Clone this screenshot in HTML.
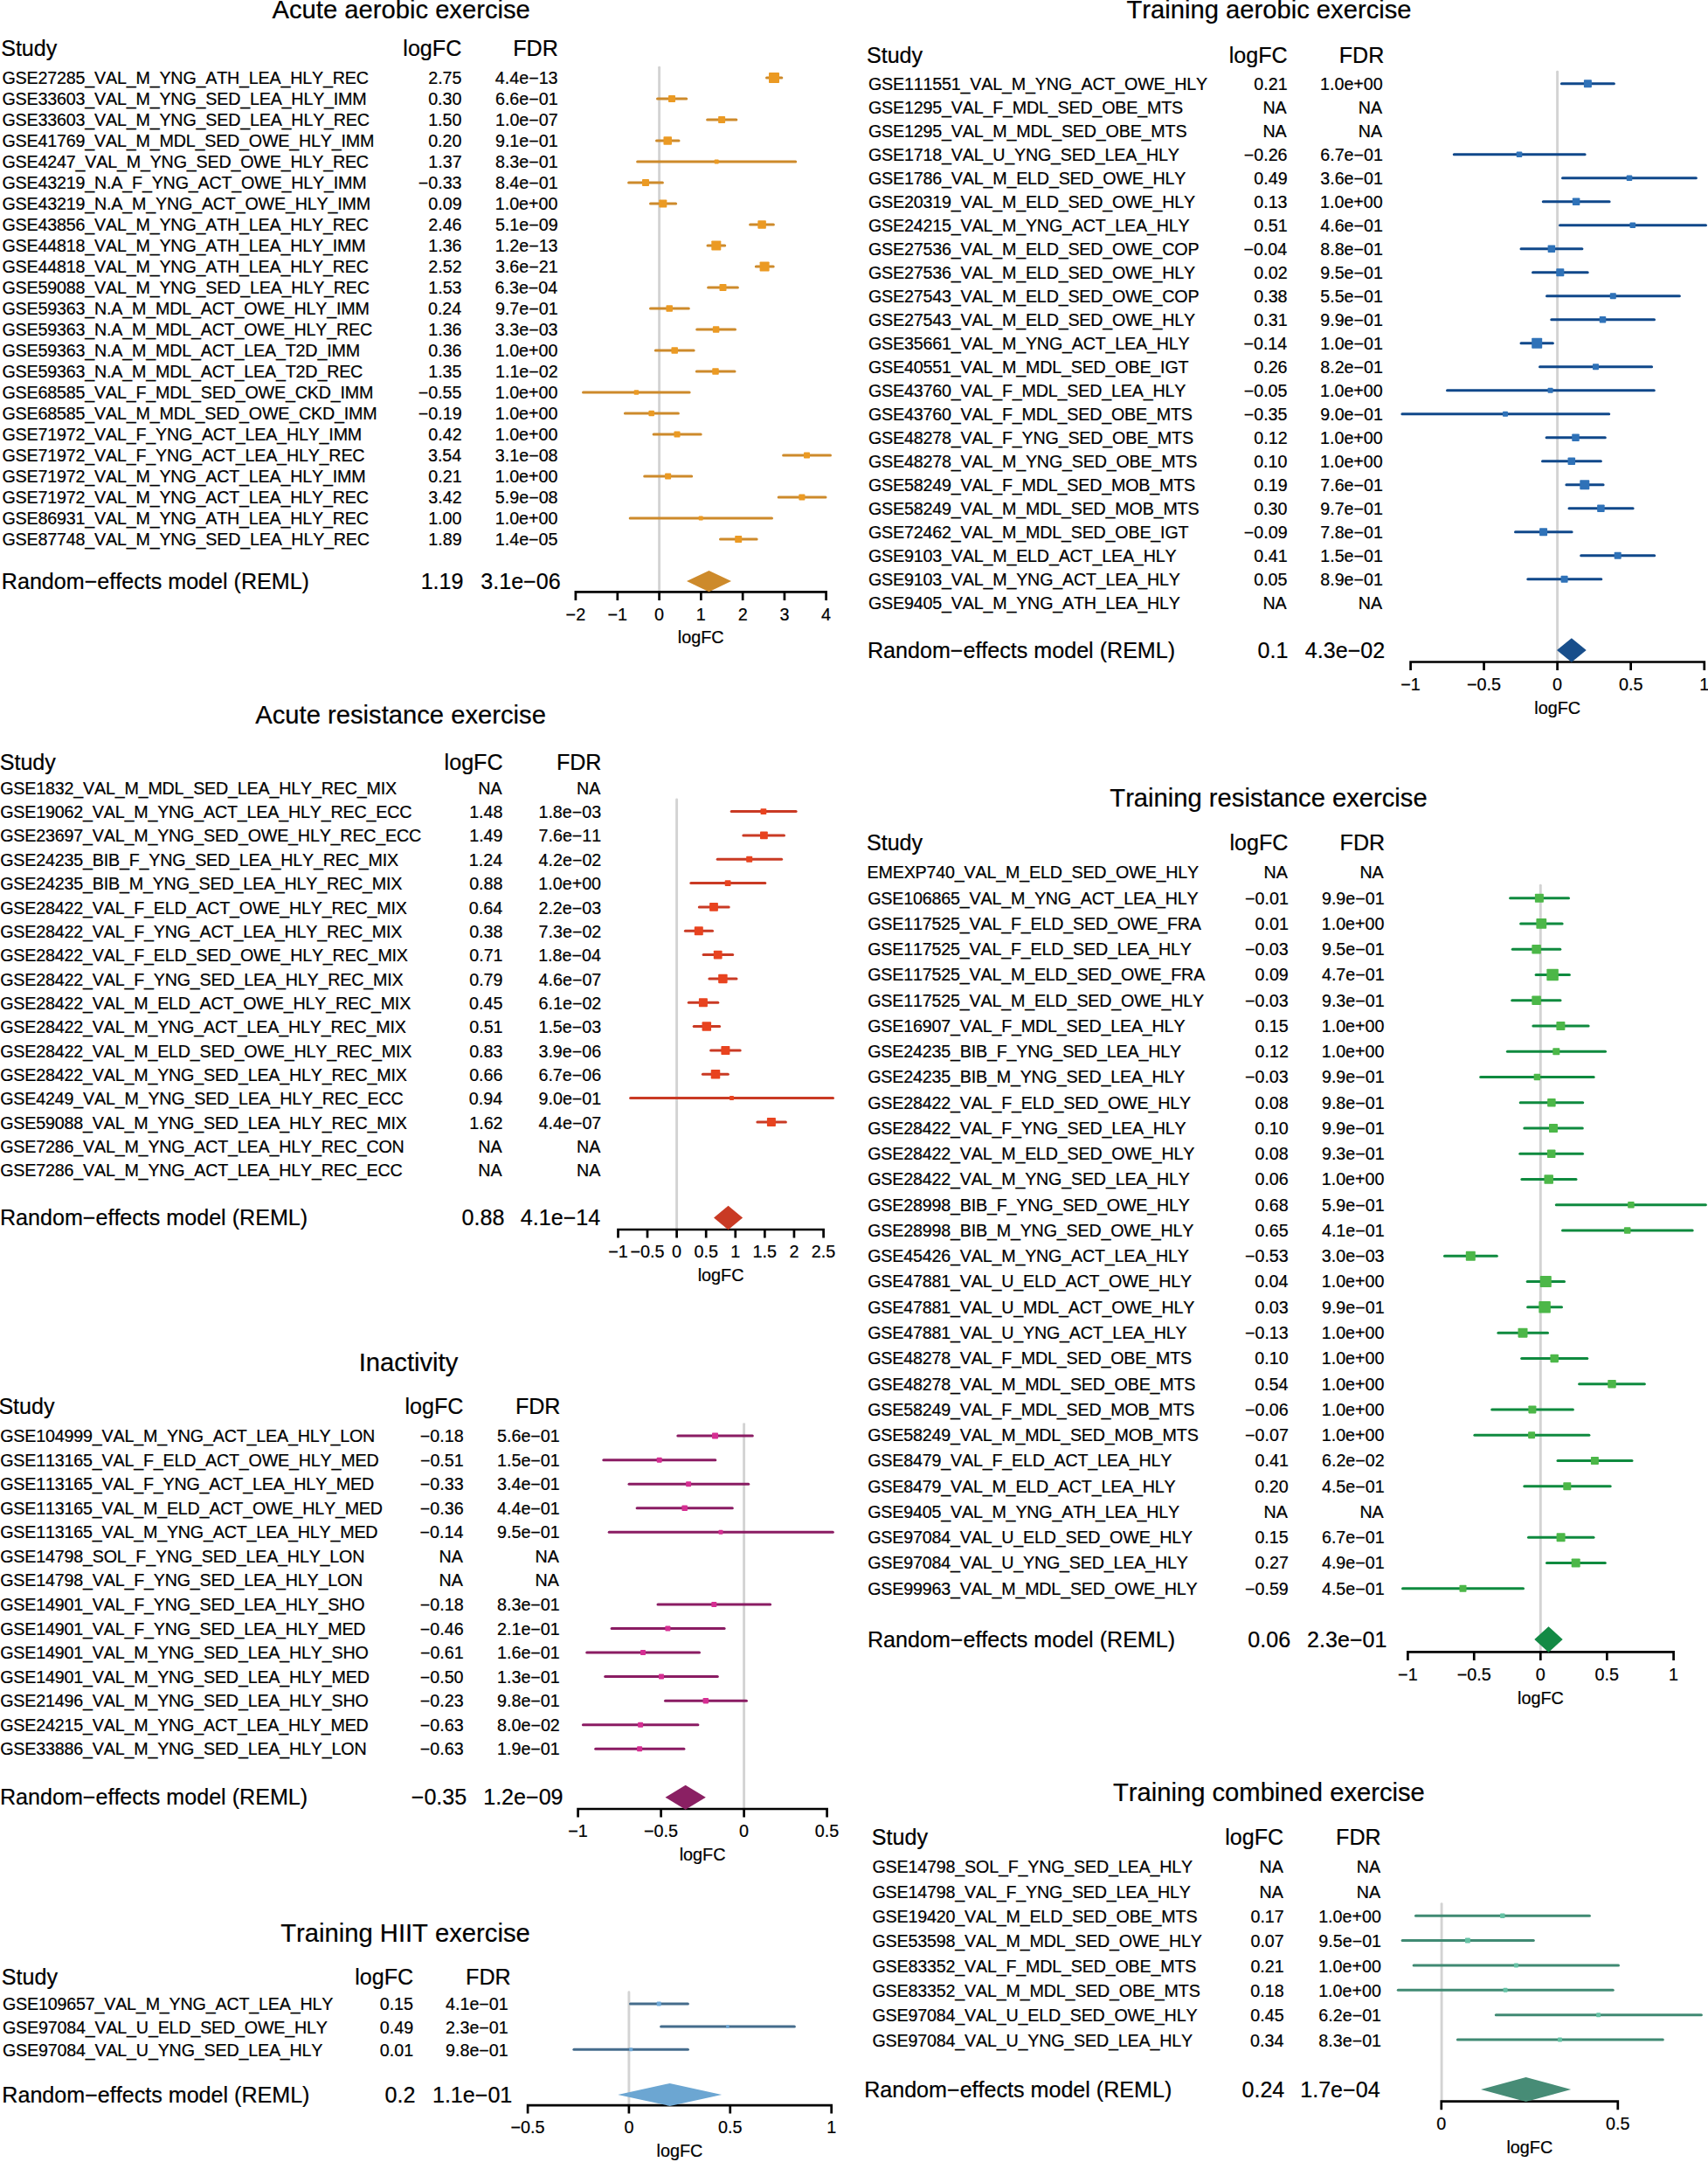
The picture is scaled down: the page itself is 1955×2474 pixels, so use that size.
<!DOCTYPE html>
<html lang="en"><head><meta charset="utf-8"><title>Forest plots</title>
<style>
html,body{margin:0;padding:0;background:#fff}
svg{display:block}
text{font-family:"Liberation Sans",sans-serif;fill:#000;stroke:#000;stroke-width:0.22px;font-kerning:none;font-variant-ligatures:none}
.t{font-size:29.2px}
.h{font-size:25.1px}
.r{font-size:19.7px}
.a{font-size:19.8px}
.l{letter-spacing:-0.19px}
</style></head><body>
<svg width="1955" height="2474" viewBox="0 0 1955 2474">
<rect width="1955" height="2474" fill="#fff"/>
<g>
<text class="t" x="459.2" y="20.6" text-anchor="middle">Acute aerobic exercise</text>
<text class="h" x="1.16" y="63.6">Study</text>
<text class="h" x="528.26" y="63.6" text-anchor="end">logFC</text>
<text class="h" x="638.86" y="63.6" text-anchor="end">FDR</text>
<line x1="754.6" x2="754.6" y1="77.2" y2="677.4" stroke="#d3d3d3" stroke-width="2.9" stroke-linecap="round"/>
<path d="M658.9 686.9V677.4H945.6V686.9M706.82 677.4v9.5M754.6 677.4v9.5M802.38 677.4v9.5M850.16 677.4v9.5M897.94 677.4v9.5" fill="none" stroke="#000" stroke-width="2.7" stroke-linecap="butt" stroke-linejoin="miter"/>
<text class="a" x="658.9" y="709.7" text-anchor="middle">−2</text>
<text class="a" x="706.82" y="709.7" text-anchor="middle">−1</text>
<text class="a" x="754.6" y="709.7" text-anchor="middle">0</text>
<text class="a" x="802.38" y="709.7" text-anchor="middle">1</text>
<text class="a" x="850.16" y="709.7" text-anchor="middle">2</text>
<text class="a" x="897.94" y="709.7" text-anchor="middle">3</text>
<text class="a" x="945.6" y="709.7" text-anchor="middle">4</text>
<text class="a" x="802.25" y="736" text-anchor="middle">logFC</text>
<text class="r l" x="2.51" y="95.5">GSE27285_VAL_M_YNG_ATH_LEA_HLY_REC</text>
<text class="r" x="528.53" y="95.5" text-anchor="end">2.75</text>
<text class="r" x="638.57" y="95.5" text-anchor="end">4.4e−13</text>
<line x1="877.5" x2="894.8" y1="89" y2="89" stroke="#CD8A2B" stroke-width="3.0" stroke-linecap="round"/>
<rect x="880" y="83" width="12" height="12" rx="0.8" fill="#EB9A23"/>
<text class="r l" x="2.51" y="119.5">GSE33603_VAL_M_YNG_SED_LEA_HLY_IMM</text>
<text class="r" x="528.47" y="119.5" text-anchor="end">0.30</text>
<text class="r" x="638.66" y="119.5" text-anchor="end">6.6e−01</text>
<line x1="752.5" x2="785.7" y1="113" y2="113" stroke="#CD8A2B" stroke-width="3.0" stroke-linecap="round"/>
<rect x="765" y="109" width="8" height="8" rx="0.8" fill="#EB9A23"/>
<text class="r l" x="2.51" y="143.5">GSE33603_VAL_M_YNG_SED_LEA_HLY_REC</text>
<text class="r" x="528.47" y="143.5" text-anchor="end">1.50</text>
<text class="r" x="638.69" y="143.5" text-anchor="end">1.0e−07</text>
<line x1="809.6" x2="842.8" y1="137" y2="137" stroke="#CD8A2B" stroke-width="3.0" stroke-linecap="round"/>
<rect x="822.1" y="133" width="8" height="8" rx="0.8" fill="#EB9A23"/>
<text class="r l" x="2.51" y="167.5">GSE41769_VAL_M_MDL_SED_OWE_HLY_IMM</text>
<text class="r" x="528.47" y="167.5" text-anchor="end">0.20</text>
<text class="r" x="638.66" y="167.5" text-anchor="end">9.1e−01</text>
<line x1="751.5" x2="777" y1="161" y2="161" stroke="#CD8A2B" stroke-width="3.0" stroke-linecap="round"/>
<rect x="759.45" y="156.25" width="9.5" height="9.5" rx="0.8" fill="#EB9A23"/>
<text class="r l" x="2.51" y="191.5">GSE4247_VAL_M_YNG_SED_OWE_HLY_REC</text>
<text class="r" x="528.69" y="191.5" text-anchor="end">1.37</text>
<text class="r" x="638.66" y="191.5" text-anchor="end">8.3e−01</text>
<line x1="729.6" x2="910.7" y1="185" y2="185" stroke="#CD8A2B" stroke-width="3.0" stroke-linecap="round"/>
<rect x="817.7" y="182.5" width="5" height="5" rx="0.8" fill="#EB9A23"/>
<text class="r l" x="2.51" y="215.5">GSE43219_N.A_F_YNG_ACT_OWE_HLY_IMM</text>
<text class="r" x="528.57" y="215.5" text-anchor="end">−0.33</text>
<text class="r" x="638.66" y="215.5" text-anchor="end">8.4e−01</text>
<line x1="719.6" x2="758.4" y1="209" y2="209" stroke="#CD8A2B" stroke-width="3.0" stroke-linecap="round"/>
<rect x="735" y="205" width="8" height="8" rx="0.8" fill="#EB9A23"/>
<text class="r l" x="2.51" y="239.5">GSE43219_N.A_M_YNG_ACT_OWE_HLY_IMM</text>
<text class="r" x="528.63" y="239.5" text-anchor="end">0.09</text>
<text class="r" x="638.47" y="239.5" text-anchor="end">1.0e+00</text>
<line x1="744.5" x2="773.6" y1="233" y2="233" stroke="#CD8A2B" stroke-width="3.0" stroke-linecap="round"/>
<rect x="754.3" y="228.5" width="9" height="9" rx="0.8" fill="#EB9A23"/>
<text class="r l" x="2.51" y="263.5">GSE43856_VAL_M_YNG_ATH_LEA_HLY_REC</text>
<text class="r" x="528.57" y="263.5" text-anchor="end">2.46</text>
<text class="r" x="638.63" y="263.5" text-anchor="end">5.1e−09</text>
<line x1="858.6" x2="885.4" y1="257" y2="257" stroke="#CD8A2B" stroke-width="3.0" stroke-linecap="round"/>
<rect x="867.35" y="252.25" width="9.5" height="9.5" rx="0.8" fill="#EB9A23"/>
<text class="r l" x="2.51" y="287.5">GSE44818_VAL_M_YNG_ATH_LEA_HLY_IMM</text>
<text class="r" x="528.57" y="287.5" text-anchor="end">1.36</text>
<text class="r" x="638.57" y="287.5" text-anchor="end">1.2e−13</text>
<line x1="810" x2="829.7" y1="281" y2="281" stroke="#CD8A2B" stroke-width="3.0" stroke-linecap="round"/>
<rect x="814.3" y="275.5" width="11" height="11" rx="0.8" fill="#EB9A23"/>
<text class="r l" x="2.51" y="311.5">GSE44818_VAL_M_YNG_ATH_LEA_HLY_REC</text>
<text class="r" x="528.69" y="311.5" text-anchor="end">2.52</text>
<text class="r" x="638.66" y="311.5" text-anchor="end">3.6e−21</text>
<line x1="865.3" x2="885.2" y1="305" y2="305" stroke="#CD8A2B" stroke-width="3.0" stroke-linecap="round"/>
<rect x="869.6" y="299.5" width="11" height="11" rx="0.8" fill="#EB9A23"/>
<text class="r l" x="2.51" y="335.5">GSE59088_VAL_M_YNG_SED_LEA_HLY_REC</text>
<text class="r" x="528.57" y="335.5" text-anchor="end">1.53</text>
<text class="r" x="638.28" y="335.5" text-anchor="end">6.3e−04</text>
<line x1="810.6" x2="844.4" y1="329" y2="329" stroke="#CD8A2B" stroke-width="3.0" stroke-linecap="round"/>
<rect x="823.5" y="325" width="8" height="8" rx="0.8" fill="#EB9A23"/>
<text class="r l" x="2.51" y="359.5">GSE59363_N.A_M_MDL_ACT_OWE_HLY_IMM</text>
<text class="r" x="528.28" y="359.5" text-anchor="end">0.24</text>
<text class="r" x="638.66" y="359.5" text-anchor="end">9.7e−01</text>
<line x1="744.5" x2="788.3" y1="353" y2="353" stroke="#CD8A2B" stroke-width="3.0" stroke-linecap="round"/>
<rect x="762.45" y="349.25" width="7.5" height="7.5" rx="0.8" fill="#EB9A23"/>
<text class="r l" x="2.51" y="383.5">GSE59363_N.A_M_MDL_ACT_OWE_HLY_REC</text>
<text class="r" x="528.57" y="383.5" text-anchor="end">1.36</text>
<text class="r" x="638.57" y="383.5" text-anchor="end">3.3e−03</text>
<line x1="797.7" x2="841.5" y1="377" y2="377" stroke="#CD8A2B" stroke-width="3.0" stroke-linecap="round"/>
<rect x="815.85" y="373.25" width="7.5" height="7.5" rx="0.8" fill="#EB9A23"/>
<text class="r l" x="2.51" y="407.5">GSE59363_N.A_M_MDL_ACT_LEA_T2D_IMM</text>
<text class="r" x="528.57" y="407.5" text-anchor="end">0.36</text>
<text class="r" x="638.47" y="407.5" text-anchor="end">1.0e+00</text>
<line x1="750.3" x2="794.1" y1="401" y2="401" stroke="#CD8A2B" stroke-width="3.0" stroke-linecap="round"/>
<rect x="768.45" y="397.25" width="7.5" height="7.5" rx="0.8" fill="#EB9A23"/>
<text class="r l" x="2.51" y="431.5">GSE59363_N.A_M_MDL_ACT_LEA_T2D_REC</text>
<text class="r" x="528.53" y="431.5" text-anchor="end">1.35</text>
<text class="r" x="638.69" y="431.5" text-anchor="end">1.1e−02</text>
<line x1="797.3" x2="841" y1="425" y2="425" stroke="#CD8A2B" stroke-width="3.0" stroke-linecap="round"/>
<rect x="815.25" y="421.25" width="7.5" height="7.5" rx="0.8" fill="#EB9A23"/>
<text class="r l" x="2.51" y="455.5">GSE68585_VAL_F_MDL_SED_OWE_CKD_IMM</text>
<text class="r" x="528.53" y="455.5" text-anchor="end">−0.55</text>
<text class="r" x="638.47" y="455.5" text-anchor="end">1.0e+00</text>
<line x1="667.5" x2="789.1" y1="449" y2="449" stroke="#CD8A2B" stroke-width="3.0" stroke-linecap="round"/>
<rect x="725.65" y="446.25" width="5.5" height="5.5" rx="0.8" fill="#EB9A23"/>
<text class="r l" x="2.51" y="479.5">GSE68585_VAL_M_MDL_SED_OWE_CKD_IMM</text>
<text class="r" x="528.63" y="479.5" text-anchor="end">−0.19</text>
<text class="r" x="638.47" y="479.5" text-anchor="end">1.0e+00</text>
<line x1="715.4" x2="776.4" y1="473" y2="473" stroke="#CD8A2B" stroke-width="3.0" stroke-linecap="round"/>
<rect x="742.45" y="469.75" width="6.5" height="6.5" rx="0.8" fill="#EB9A23"/>
<text class="r l" x="2.51" y="503.5">GSE71972_VAL_F_YNG_ACT_LEA_HLY_IMM</text>
<text class="r" x="528.69" y="503.5" text-anchor="end">0.42</text>
<text class="r" x="638.47" y="503.5" text-anchor="end">1.0e+00</text>
<line x1="748.1" x2="802.2" y1="497" y2="497" stroke="#CD8A2B" stroke-width="3.0" stroke-linecap="round"/>
<rect x="771.5" y="493.5" width="7" height="7" rx="0.8" fill="#EB9A23"/>
<text class="r l" x="2.51" y="527.5">GSE71972_VAL_F_YNG_ACT_LEA_HLY_REC</text>
<text class="r" x="528.28" y="527.5" text-anchor="end">3.54</text>
<text class="r" x="638.56" y="527.5" text-anchor="end">3.1e−08</text>
<line x1="896.6" x2="950.5" y1="521" y2="521" stroke="#CD8A2B" stroke-width="3.0" stroke-linecap="round"/>
<rect x="920" y="517.5" width="7" height="7" rx="0.8" fill="#EB9A23"/>
<text class="r l" x="2.51" y="551.5">GSE71972_VAL_M_YNG_ACT_LEA_HLY_IMM</text>
<text class="r" x="528.66" y="551.5" text-anchor="end">0.21</text>
<text class="r" x="638.47" y="551.5" text-anchor="end">1.0e+00</text>
<line x1="737.7" x2="791.7" y1="545" y2="545" stroke="#CD8A2B" stroke-width="3.0" stroke-linecap="round"/>
<rect x="761.1" y="541.5" width="7" height="7" rx="0.8" fill="#EB9A23"/>
<text class="r l" x="2.51" y="575.5">GSE71972_VAL_M_YNG_ACT_LEA_HLY_REC</text>
<text class="r" x="528.69" y="575.5" text-anchor="end">3.42</text>
<text class="r" x="638.56" y="575.5" text-anchor="end">5.9e−08</text>
<line x1="891.2" x2="945" y1="569" y2="569" stroke="#CD8A2B" stroke-width="3.0" stroke-linecap="round"/>
<rect x="914.4" y="565.5" width="7" height="7" rx="0.8" fill="#EB9A23"/>
<text class="r l" x="2.51" y="599.5">GSE86931_VAL_M_YNG_ATH_LEA_HLY_REC</text>
<text class="r" x="528.47" y="599.5" text-anchor="end">1.00</text>
<text class="r" x="638.47" y="599.5" text-anchor="end">1.0e+00</text>
<line x1="721.2" x2="883.5" y1="593" y2="593" stroke="#CD8A2B" stroke-width="3.0" stroke-linecap="round"/>
<rect x="799.7" y="590.5" width="5" height="5" rx="0.8" fill="#EB9A23"/>
<text class="r l" x="2.51" y="623.5">GSE87748_VAL_M_YNG_SED_LEA_HLY_REC</text>
<text class="r" x="528.63" y="623.5" text-anchor="end">1.89</text>
<text class="r" x="638.53" y="623.5" text-anchor="end">1.4e−05</text>
<line x1="824.5" x2="866.1" y1="617" y2="617" stroke="#CD8A2B" stroke-width="3.0" stroke-linecap="round"/>
<rect x="841.2" y="613" width="8" height="8" rx="0.8" fill="#EB9A23"/>
<text class="h" x="1.84" y="673.7">Random−effects model (REML)</text>
<text class="h" x="530.49" y="673.7" text-anchor="end">1.19</text>
<text class="h" x="641.7" y="673.7" text-anchor="end">3.1e−06</text>
<polygon points="786,665.1 811.5,652.9 837,665.1 811.5,677.3" fill="#CD8A2B"/>
</g>
<g>
<text class="t" x="1452.5" y="20.6" text-anchor="middle">Training aerobic exercise</text>
<text class="h" x="991.96" y="71.9">Study</text>
<text class="h" x="1473.66" y="71.9" text-anchor="end">logFC</text>
<text class="h" x="1584.36" y="71.9" text-anchor="end">FDR</text>
<line x1="1782.6" x2="1782.6" y1="82.2" y2="757.5" stroke="#d3d3d3" stroke-width="2.9" stroke-linecap="round"/>
<path d="M1614.6 767V757.5H1950.8V767M1698.55 757.5v9.5M1782.6 757.5v9.5M1866.65 757.5v9.5" fill="none" stroke="#000" stroke-width="2.7" stroke-linecap="butt" stroke-linejoin="miter"/>
<text class="a" x="1614.6" y="789.8" text-anchor="middle">−1</text>
<text class="a" x="1698.55" y="789.8" text-anchor="middle">−0.5</text>
<text class="a" x="1782.6" y="789.8" text-anchor="middle">0</text>
<text class="a" x="1866.65" y="789.8" text-anchor="middle">0.5</text>
<text class="a" x="1950.8" y="789.8" text-anchor="middle">1</text>
<text class="a" x="1782.7" y="816.8" text-anchor="middle">logFC</text>
<text class="r l" x="994.01" y="102.7">GSE111551_VAL_M_YNG_ACT_OWE_HLY</text>
<text class="r" x="1473.66" y="102.7" text-anchor="end">0.21</text>
<text class="r" x="1582.77" y="102.7" text-anchor="end">1.0e+00</text>
<line x1="1787.4" x2="1847.4" y1="95.7" y2="95.7" stroke="#10488A" stroke-width="3.0" stroke-linecap="round"/>
<rect x="1812.9" y="91.2" width="9" height="9" rx="0.8" fill="#2F72B8"/>
<text class="r l" x="994.01" y="129.7">GSE1295_VAL_F_MDL_SED_OBE_MTS</text>
<text class="r" x="1472.74" y="129.7" text-anchor="end">NA</text>
<text class="r" x="1582.04" y="129.7" text-anchor="end">NA</text>
<text class="r l" x="994.01" y="156.7">GSE1295_VAL_M_MDL_SED_OBE_MTS</text>
<text class="r" x="1472.74" y="156.7" text-anchor="end">NA</text>
<text class="r" x="1582.04" y="156.7" text-anchor="end">NA</text>
<text class="r l" x="994.01" y="183.7">GSE1718_VAL_U_YNG_SED_LEA_HLY</text>
<text class="r" x="1473.57" y="183.7" text-anchor="end">−0.26</text>
<text class="r" x="1582.96" y="183.7" text-anchor="end">6.7e−01</text>
<line x1="1664.3" x2="1814.1" y1="176.7" y2="176.7" stroke="#10488A" stroke-width="3.0" stroke-linecap="round"/>
<rect x="1735.75" y="173.45" width="6.5" height="6.5" rx="0.8" fill="#2F72B8"/>
<text class="r l" x="994.01" y="210.7">GSE1786_VAL_M_ELD_SED_OWE_HLY</text>
<text class="r" x="1473.63" y="210.7" text-anchor="end">0.49</text>
<text class="r" x="1582.96" y="210.7" text-anchor="end">3.6e−01</text>
<line x1="1788.5" x2="1941.4" y1="203.7" y2="203.7" stroke="#10488A" stroke-width="3.0" stroke-linecap="round"/>
<rect x="1861.75" y="200.45" width="6.5" height="6.5" rx="0.8" fill="#2F72B8"/>
<text class="r l" x="994.01" y="237.7">GSE20319_VAL_M_ELD_SED_OWE_HLY</text>
<text class="r" x="1473.57" y="237.7" text-anchor="end">0.13</text>
<text class="r" x="1582.77" y="237.7" text-anchor="end">1.0e+00</text>
<line x1="1766.3" x2="1842.1" y1="230.7" y2="230.7" stroke="#10488A" stroke-width="3.0" stroke-linecap="round"/>
<rect x="1799.85" y="226.45" width="8.5" height="8.5" rx="0.8" fill="#2F72B8"/>
<text class="r l" x="994.01" y="264.7">GSE24215_VAL_M_YNG_ACT_LEA_HLY</text>
<text class="r" x="1473.66" y="264.7" text-anchor="end">0.51</text>
<text class="r" x="1582.96" y="264.7" text-anchor="end">4.6e−01</text>
<line x1="1785.5" x2="1952.5" y1="257.7" y2="257.7" stroke="#10488A" stroke-width="3.0" stroke-linecap="round"/>
<rect x="1865.55" y="254.45" width="6.5" height="6.5" rx="0.8" fill="#2F72B8"/>
<text class="r l" x="994.01" y="291.7">GSE27536_VAL_M_ELD_SED_OWE_COP</text>
<text class="r" x="1473.28" y="291.7" text-anchor="end">−0.04</text>
<text class="r" x="1582.96" y="291.7" text-anchor="end">8.8e−01</text>
<line x1="1741" x2="1810.9" y1="284.7" y2="284.7" stroke="#10488A" stroke-width="3.0" stroke-linecap="round"/>
<rect x="1771.65" y="280.45" width="8.5" height="8.5" rx="0.8" fill="#2F72B8"/>
<text class="r l" x="994.01" y="318.7">GSE27536_VAL_M_ELD_SED_OWE_HLY</text>
<text class="r" x="1473.69" y="318.7" text-anchor="end">0.02</text>
<text class="r" x="1582.96" y="318.7" text-anchor="end">9.5e−01</text>
<line x1="1754.5" x2="1817.2" y1="311.7" y2="311.7" stroke="#10488A" stroke-width="3.0" stroke-linecap="round"/>
<rect x="1781.3" y="307.2" width="9" height="9" rx="0.8" fill="#2F72B8"/>
<text class="r l" x="994.01" y="345.7">GSE27543_VAL_M_ELD_SED_OWE_COP</text>
<text class="r" x="1473.56" y="345.7" text-anchor="end">0.38</text>
<text class="r" x="1582.96" y="345.7" text-anchor="end">5.5e−01</text>
<line x1="1770.5" x2="1922.4" y1="338.7" y2="338.7" stroke="#10488A" stroke-width="3.0" stroke-linecap="round"/>
<rect x="1842.8" y="335.2" width="7" height="7" rx="0.8" fill="#2F72B8"/>
<text class="r l" x="994.01" y="372.7">GSE27543_VAL_M_ELD_SED_OWE_HLY</text>
<text class="r" x="1473.66" y="372.7" text-anchor="end">0.31</text>
<text class="r" x="1582.96" y="372.7" text-anchor="end">9.9e−01</text>
<line x1="1775.8" x2="1893.5" y1="365.7" y2="365.7" stroke="#10488A" stroke-width="3.0" stroke-linecap="round"/>
<rect x="1830.75" y="361.95" width="7.5" height="7.5" rx="0.8" fill="#2F72B8"/>
<text class="r l" x="994.01" y="399.7">GSE35661_VAL_M_YNG_ACT_LEA_HLY</text>
<text class="r" x="1473.28" y="399.7" text-anchor="end">−0.14</text>
<text class="r" x="1582.96" y="399.7" text-anchor="end">1.0e−01</text>
<line x1="1741" x2="1777.4" y1="392.7" y2="392.7" stroke="#10488A" stroke-width="3.0" stroke-linecap="round"/>
<rect x="1753.2" y="386.7" width="12" height="12" rx="0.8" fill="#2F72B8"/>
<text class="r l" x="994.01" y="426.7">GSE40551_VAL_M_MDL_SED_OBE_IGT</text>
<text class="r" x="1473.57" y="426.7" text-anchor="end">0.26</text>
<text class="r" x="1582.96" y="426.7" text-anchor="end">8.2e−01</text>
<line x1="1762.5" x2="1890.6" y1="419.7" y2="419.7" stroke="#10488A" stroke-width="3.0" stroke-linecap="round"/>
<rect x="1823" y="416.2" width="7" height="7" rx="0.8" fill="#2F72B8"/>
<text class="r l" x="994.01" y="453.7">GSE43760_VAL_F_MDL_SED_LEA_HLY</text>
<text class="r" x="1473.53" y="453.7" text-anchor="end">−0.05</text>
<text class="r" x="1582.77" y="453.7" text-anchor="end">1.0e+00</text>
<line x1="1656.5" x2="1893.3" y1="446.7" y2="446.7" stroke="#10488A" stroke-width="3.0" stroke-linecap="round"/>
<rect x="1771.6" y="443.7" width="6" height="6" rx="0.8" fill="#2F72B8"/>
<text class="r l" x="994.01" y="480.7">GSE43760_VAL_F_MDL_SED_OBE_MTS</text>
<text class="r" x="1473.53" y="480.7" text-anchor="end">−0.35</text>
<text class="r" x="1582.96" y="480.7" text-anchor="end">9.0e−01</text>
<line x1="1604.9" x2="1841.7" y1="473.7" y2="473.7" stroke="#10488A" stroke-width="3.0" stroke-linecap="round"/>
<rect x="1720" y="470.7" width="6" height="6" rx="0.8" fill="#2F72B8"/>
<text class="r l" x="994.01" y="507.7">GSE48278_VAL_F_YNG_SED_OBE_MTS</text>
<text class="r" x="1473.69" y="507.7" text-anchor="end">0.12</text>
<text class="r" x="1582.77" y="507.7" text-anchor="end">1.0e+00</text>
<line x1="1770.1" x2="1837.3" y1="500.7" y2="500.7" stroke="#10488A" stroke-width="3.0" stroke-linecap="round"/>
<rect x="1799.25" y="496.45" width="8.5" height="8.5" rx="0.8" fill="#2F72B8"/>
<text class="r l" x="994.01" y="534.7">GSE48278_VAL_M_YNG_SED_OBE_MTS</text>
<text class="r" x="1473.47" y="534.7" text-anchor="end">0.10</text>
<text class="r" x="1582.77" y="534.7" text-anchor="end">1.0e+00</text>
<line x1="1765.5" x2="1832.4" y1="527.7" y2="527.7" stroke="#10488A" stroke-width="3.0" stroke-linecap="round"/>
<rect x="1794.55" y="523.45" width="8.5" height="8.5" rx="0.8" fill="#2F72B8"/>
<text class="r l" x="994.01" y="561.7">GSE58249_VAL_F_MDL_SED_MOB_MTS</text>
<text class="r" x="1473.63" y="561.7" text-anchor="end">0.19</text>
<text class="r" x="1582.96" y="561.7" text-anchor="end">7.6e−01</text>
<line x1="1792.9" x2="1835.1" y1="554.7" y2="554.7" stroke="#10488A" stroke-width="3.0" stroke-linecap="round"/>
<rect x="1808.3" y="549.2" width="11" height="11" rx="0.8" fill="#2F72B8"/>
<text class="r l" x="994.01" y="588.7">GSE58249_VAL_M_MDL_SED_MOB_MTS</text>
<text class="r" x="1473.47" y="588.7" text-anchor="end">0.30</text>
<text class="r" x="1582.96" y="588.7" text-anchor="end">9.7e−01</text>
<line x1="1796" x2="1869.1" y1="581.7" y2="581.7" stroke="#10488A" stroke-width="3.0" stroke-linecap="round"/>
<rect x="1828.15" y="577.45" width="8.5" height="8.5" rx="0.8" fill="#2F72B8"/>
<text class="r l" x="994.01" y="615.7">GSE72462_VAL_M_MDL_SED_OBE_IGT</text>
<text class="r" x="1473.63" y="615.7" text-anchor="end">−0.09</text>
<text class="r" x="1582.96" y="615.7" text-anchor="end">7.8e−01</text>
<line x1="1734.5" x2="1799.1" y1="608.7" y2="608.7" stroke="#10488A" stroke-width="3.0" stroke-linecap="round"/>
<rect x="1762.1" y="604.2" width="9" height="9" rx="0.8" fill="#2F72B8"/>
<text class="r l" x="994.01" y="642.7">GSE9103_VAL_M_ELD_ACT_LEA_HLY</text>
<text class="r" x="1473.66" y="642.7" text-anchor="end">0.41</text>
<text class="r" x="1582.96" y="642.7" text-anchor="end">1.5e−01</text>
<line x1="1809.7" x2="1893.7" y1="635.7" y2="635.7" stroke="#10488A" stroke-width="3.0" stroke-linecap="round"/>
<rect x="1847.7" y="631.7" width="8" height="8" rx="0.8" fill="#2F72B8"/>
<text class="r l" x="994.01" y="669.7">GSE9103_VAL_M_YNG_ACT_LEA_HLY</text>
<text class="r" x="1473.53" y="669.7" text-anchor="end">0.05</text>
<text class="r" x="1582.96" y="669.7" text-anchor="end">8.9e−01</text>
<line x1="1748.8" x2="1832.8" y1="662.7" y2="662.7" stroke="#10488A" stroke-width="3.0" stroke-linecap="round"/>
<rect x="1786.6" y="658.7" width="8" height="8" rx="0.8" fill="#2F72B8"/>
<text class="r l" x="994.01" y="696.7">GSE9405_VAL_M_YNG_ATH_LEA_HLY</text>
<text class="r" x="1472.74" y="696.7" text-anchor="end">NA</text>
<text class="r" x="1582.04" y="696.7" text-anchor="end">NA</text>
<text class="h" x="992.94" y="752.55">Random−effects model (REML)</text>
<text class="h" x="1474.43" y="752.55" text-anchor="end">0.1</text>
<text class="h" x="1585.26" y="752.55" text-anchor="end">4.3e−02</text>
<polygon points="1782,744 1798.85,730.2 1815.7,744 1798.85,757.8" fill="#184E8B"/>
</g>
<g>
<text class="t" x="458.6" y="827.7" text-anchor="middle">Acute resistance exercise</text>
<text class="h" x="-0.34" y="881.1">Study</text>
<text class="h" x="575.56" y="881.1" text-anchor="end">logFC</text>
<text class="h" x="688.46" y="881.1" text-anchor="end">FDR</text>
<line x1="774.6" x2="774.6" y1="915" y2="1407" stroke="#d3d3d3" stroke-width="2.9" stroke-linecap="round"/>
<path d="M707.5 1416.5V1407H942.6V1416.5M741.01 1407v9.5M774.6 1407v9.5M808.19 1407v9.5M841.77 1407v9.5M875.36 1407v9.5M908.94 1407v9.5" fill="none" stroke="#000" stroke-width="2.7" stroke-linecap="butt" stroke-linejoin="miter"/>
<text class="a" x="707.5" y="1439.3" text-anchor="middle">−1</text>
<text class="a" x="741.01" y="1439.3" text-anchor="middle">−0.5</text>
<text class="a" x="774.6" y="1439.3" text-anchor="middle">0</text>
<text class="a" x="808.19" y="1439.3" text-anchor="middle">0.5</text>
<text class="a" x="841.77" y="1439.3" text-anchor="middle">1</text>
<text class="a" x="875.36" y="1439.3" text-anchor="middle">1.5</text>
<text class="a" x="908.94" y="1439.3" text-anchor="middle">2</text>
<text class="a" x="942.6" y="1439.3" text-anchor="middle">2.5</text>
<text class="a" x="825.05" y="1466.3" text-anchor="middle">logFC</text>
<text class="r l" x="0.21" y="908.8">GSE1832_VAL_M_MDL_SED_LEA_HLY_REC_MIX</text>
<text class="r" x="574.64" y="908.8" text-anchor="end">NA</text>
<text class="r" x="687.34" y="908.8" text-anchor="end">NA</text>
<text class="r l" x="0.21" y="936.14">GSE19062_VAL_M_YNG_ACT_LEA_HLY_REC_ECC</text>
<text class="r" x="575.46" y="936.14" text-anchor="end">1.48</text>
<text class="r" x="688.17" y="936.14" text-anchor="end">1.8e−03</text>
<line x1="837.2" x2="911.1" y1="928.54" y2="928.54" stroke="#C93A24" stroke-width="3.0" stroke-linecap="round"/>
<rect x="870.5" y="925.14" width="6.8" height="6.8" rx="0.8" fill="#E8431F"/>
<text class="r l" x="0.21" y="963.48">GSE23697_VAL_M_YNG_SED_OWE_HLY_REC_ECC</text>
<text class="r" x="575.53" y="963.48" text-anchor="end">1.49</text>
<text class="r" x="688.26" y="963.48" text-anchor="end">7.6e−11</text>
<line x1="850.8" x2="897.5" y1="955.88" y2="955.88" stroke="#C93A24" stroke-width="3.0" stroke-linecap="round"/>
<rect x="870" y="951.48" width="8.8" height="8.8" rx="0.8" fill="#E8431F"/>
<text class="r l" x="0.21" y="990.82">GSE24235_BIB_F_YNG_SED_LEA_HLY_REC_MIX</text>
<text class="r" x="575.18" y="990.82" text-anchor="end">1.24</text>
<text class="r" x="688.29" y="990.82" text-anchor="end">4.2e−02</text>
<line x1="821.2" x2="894.6" y1="983.22" y2="983.22" stroke="#C93A24" stroke-width="3.0" stroke-linecap="round"/>
<rect x="854.2" y="979.72" width="7" height="7" rx="0.8" fill="#E8431F"/>
<text class="r l" x="0.21" y="1018.16">GSE24235_BIB_M_YNG_SED_LEA_HLY_REC_MIX</text>
<text class="r" x="575.46" y="1018.16" text-anchor="end">0.88</text>
<text class="r" x="688.07" y="1018.16" text-anchor="end">1.0e+00</text>
<line x1="790.8" x2="875.8" y1="1010.56" y2="1010.56" stroke="#C93A24" stroke-width="3.0" stroke-linecap="round"/>
<rect x="829.7" y="1007.16" width="6.8" height="6.8" rx="0.8" fill="#E8431F"/>
<text class="r l" x="0.21" y="1045.5">GSE28422_VAL_F_ELD_ACT_OWE_HLY_REC_MIX</text>
<text class="r" x="575.18" y="1045.5" text-anchor="end">0.64</text>
<text class="r" x="688.17" y="1045.5" text-anchor="end">2.2e−03</text>
<line x1="800.3" x2="834.2" y1="1037.9" y2="1037.9" stroke="#C93A24" stroke-width="3.0" stroke-linecap="round"/>
<rect x="812.1" y="1033" width="9.8" height="9.8" rx="0.8" fill="#E8431F"/>
<text class="r l" x="0.21" y="1072.84">GSE28422_VAL_F_YNG_ACT_LEA_HLY_REC_MIX</text>
<text class="r" x="575.46" y="1072.84" text-anchor="end">0.38</text>
<text class="r" x="688.29" y="1072.84" text-anchor="end">7.3e−02</text>
<line x1="784.4" x2="815.5" y1="1065.24" y2="1065.24" stroke="#C93A24" stroke-width="3.0" stroke-linecap="round"/>
<rect x="794.8" y="1060.24" width="10" height="10" rx="0.8" fill="#E8431F"/>
<text class="r l" x="0.21" y="1100.18">GSE28422_VAL_F_ELD_SED_OWE_HLY_REC_MIX</text>
<text class="r" x="575.56" y="1100.18" text-anchor="end">0.71</text>
<text class="r" x="687.88" y="1100.18" text-anchor="end">1.8e−04</text>
<line x1="805.1" x2="838.7" y1="1092.58" y2="1092.58" stroke="#C93A24" stroke-width="3.0" stroke-linecap="round"/>
<rect x="816.8" y="1087.68" width="9.8" height="9.8" rx="0.8" fill="#E8431F"/>
<text class="r l" x="0.21" y="1127.52">GSE28422_VAL_F_YNG_SED_LEA_HLY_REC_MIX</text>
<text class="r" x="575.53" y="1127.52" text-anchor="end">0.79</text>
<text class="r" x="688.29" y="1127.52" text-anchor="end">4.6e−07</text>
<line x1="811.9" x2="843" y1="1119.92" y2="1119.92" stroke="#C93A24" stroke-width="3.0" stroke-linecap="round"/>
<rect x="822.15" y="1114.67" width="10.5" height="10.5" rx="0.8" fill="#E8431F"/>
<text class="r l" x="0.21" y="1154.86">GSE28422_VAL_M_ELD_ACT_OWE_HLY_REC_MIX</text>
<text class="r" x="575.43" y="1154.86" text-anchor="end">0.45</text>
<text class="r" x="688.29" y="1154.86" text-anchor="end">6.1e−02</text>
<line x1="788.3" x2="821.8" y1="1147.26" y2="1147.26" stroke="#C93A24" stroke-width="3.0" stroke-linecap="round"/>
<rect x="799.9" y="1142.26" width="10" height="10" rx="0.8" fill="#E8431F"/>
<text class="r l" x="0.21" y="1182.2">GSE28422_VAL_M_YNG_ACT_LEA_HLY_REC_MIX</text>
<text class="r" x="575.56" y="1182.2" text-anchor="end">0.51</text>
<text class="r" x="688.17" y="1182.2" text-anchor="end">1.5e−03</text>
<line x1="794.2" x2="823.6" y1="1174.6" y2="1174.6" stroke="#C93A24" stroke-width="3.0" stroke-linecap="round"/>
<rect x="803.55" y="1169.35" width="10.5" height="10.5" rx="0.8" fill="#E8431F"/>
<text class="r l" x="0.21" y="1209.54">GSE28422_VAL_M_ELD_SED_OWE_HLY_REC_MIX</text>
<text class="r" x="575.47" y="1209.54" text-anchor="end">0.83</text>
<text class="r" x="688.17" y="1209.54" text-anchor="end">3.9e−06</text>
<line x1="813.6" x2="847.2" y1="1201.94" y2="1201.94" stroke="#C93A24" stroke-width="3.0" stroke-linecap="round"/>
<rect x="825.4" y="1196.94" width="10" height="10" rx="0.8" fill="#E8431F"/>
<text class="r l" x="0.21" y="1236.88">GSE28422_VAL_M_YNG_SED_LEA_HLY_REC_MIX</text>
<text class="r" x="575.47" y="1236.88" text-anchor="end">0.66</text>
<text class="r" x="688.17" y="1236.88" text-anchor="end">6.7e−06</text>
<line x1="804.4" x2="833.3" y1="1229.28" y2="1229.28" stroke="#C93A24" stroke-width="3.0" stroke-linecap="round"/>
<rect x="813.75" y="1224.03" width="10.5" height="10.5" rx="0.8" fill="#E8431F"/>
<text class="r l" x="0.21" y="1264.22">GSE4249_VAL_M_YNG_SED_LEA_HLY_REC_ECC</text>
<text class="r" x="575.18" y="1264.22" text-anchor="end">0.94</text>
<text class="r" x="688.26" y="1264.22" text-anchor="end">9.0e−01</text>
<line x1="721.6" x2="953.5" y1="1256.62" y2="1256.62" stroke="#C93A24" stroke-width="3.0" stroke-linecap="round"/>
<rect x="835" y="1254.12" width="5" height="5" rx="0.8" fill="#E8431F"/>
<text class="r l" x="0.21" y="1291.56">GSE59088_VAL_M_YNG_SED_LEA_HLY_REC_MIX</text>
<text class="r" x="575.59" y="1291.56" text-anchor="end">1.62</text>
<text class="r" x="688.29" y="1291.56" text-anchor="end">4.4e−07</text>
<line x1="866.9" x2="899.4" y1="1283.96" y2="1283.96" stroke="#C93A24" stroke-width="3.0" stroke-linecap="round"/>
<rect x="877.9" y="1278.96" width="10" height="10" rx="0.8" fill="#E8431F"/>
<text class="r l" x="0.21" y="1318.9">GSE7286_VAL_M_YNG_ACT_LEA_HLY_REC_CON</text>
<text class="r" x="574.64" y="1318.9" text-anchor="end">NA</text>
<text class="r" x="687.34" y="1318.9" text-anchor="end">NA</text>
<text class="r l" x="0.21" y="1346.24">GSE7286_VAL_M_YNG_ACT_LEA_HLY_REC_ECC</text>
<text class="r" x="574.64" y="1346.24" text-anchor="end">NA</text>
<text class="r" x="687.34" y="1346.24" text-anchor="end">NA</text>
<text class="h" x="-0.06" y="1402">Random−effects model (REML)</text>
<text class="h" x="577.39" y="1402" text-anchor="end">0.88</text>
<text class="h" x="687.24" y="1402" text-anchor="end">4.1e−14</text>
<polygon points="817,1393.5 833.55,1379.7 850.1,1393.5 833.55,1407.3" fill="#C93A24"/>
</g>
<g>
<text class="t" x="467.5" y="1569.4" text-anchor="middle">Inactivity</text>
<text class="h" x="-1.64" y="1617.9">Study</text>
<text class="h" x="530.36" y="1617.9" text-anchor="end">logFC</text>
<text class="h" x="641.46" y="1617.9" text-anchor="end">FDR</text>
<line x1="851.6" x2="851.6" y1="1629.6" y2="2070" stroke="#d3d3d3" stroke-width="2.9" stroke-linecap="round"/>
<path d="M661.6 2079.5V2070H946.6V2079.5M756.6 2070v9.5M851.6 2070v9.5" fill="none" stroke="#000" stroke-width="2.7" stroke-linecap="butt" stroke-linejoin="miter"/>
<text class="a" x="661.6" y="2102.3" text-anchor="middle">−1</text>
<text class="a" x="756.6" y="2102.3" text-anchor="middle">−0.5</text>
<text class="a" x="851.6" y="2102.3" text-anchor="middle">0</text>
<text class="a" x="946.6" y="2102.3" text-anchor="middle">0.5</text>
<text class="a" x="804.1" y="2129.3" text-anchor="middle">logFC</text>
<text class="r l" x="0.21" y="1650.15">GSE104999_VAL_M_YNG_ACT_LEA_HLY_LON</text>
<text class="r" x="530.66" y="1650.15" text-anchor="end">−0.18</text>
<text class="r" x="640.76" y="1650.15" text-anchor="end">5.6e−01</text>
<line x1="775.8" x2="861.3" y1="1643.1" y2="1643.1" stroke="#8A1C63" stroke-width="3.0" stroke-linecap="round"/>
<rect x="815" y="1639.6" width="7" height="7" rx="0.8" fill="#D52E92"/>
<text class="r l" x="0.21" y="1677.7">GSE113165_VAL_F_ELD_ACT_OWE_HLY_MED</text>
<text class="r" x="530.76" y="1677.7" text-anchor="end">−0.51</text>
<text class="r" x="640.76" y="1677.7" text-anchor="end">1.5e−01</text>
<line x1="690.8" x2="818.8" y1="1670.65" y2="1670.65" stroke="#8A1C63" stroke-width="3.0" stroke-linecap="round"/>
<rect x="751.7" y="1667.65" width="6" height="6" rx="0.8" fill="#D52E92"/>
<text class="r l" x="0.21" y="1705.25">GSE113165_VAL_F_YNG_ACT_LEA_HLY_MED</text>
<text class="r" x="530.67" y="1705.25" text-anchor="end">−0.33</text>
<text class="r" x="640.76" y="1705.25" text-anchor="end">3.4e−01</text>
<line x1="720" x2="856.7" y1="1698.2" y2="1698.2" stroke="#8A1C63" stroke-width="3.0" stroke-linecap="round"/>
<rect x="785.1" y="1695.2" width="6" height="6" rx="0.8" fill="#D52E92"/>
<text class="r l" x="0.21" y="1732.8">GSE113165_VAL_M_ELD_ACT_OWE_HLY_MED</text>
<text class="r" x="530.67" y="1732.8" text-anchor="end">−0.36</text>
<text class="r" x="640.76" y="1732.8" text-anchor="end">4.4e−01</text>
<line x1="729.1" x2="838.3" y1="1725.75" y2="1725.75" stroke="#8A1C63" stroke-width="3.0" stroke-linecap="round"/>
<rect x="780.45" y="1722.5" width="6.5" height="6.5" rx="0.8" fill="#D52E92"/>
<text class="r l" x="0.21" y="1760.35">GSE113165_VAL_M_YNG_ACT_LEA_HLY_MED</text>
<text class="r" x="530.38" y="1760.35" text-anchor="end">−0.14</text>
<text class="r" x="640.76" y="1760.35" text-anchor="end">9.5e−01</text>
<line x1="697.2" x2="953.3" y1="1753.3" y2="1753.3" stroke="#8A1C63" stroke-width="3.0" stroke-linecap="round"/>
<rect x="822.5" y="1750.8" width="5" height="5" rx="0.8" fill="#D52E92"/>
<text class="r l" x="0.21" y="1787.9">GSE14798_SOL_F_YNG_SED_LEA_HLY_LON</text>
<text class="r" x="529.84" y="1787.9" text-anchor="end">NA</text>
<text class="r" x="639.84" y="1787.9" text-anchor="end">NA</text>
<text class="r l" x="0.21" y="1815.45">GSE14798_VAL_F_YNG_SED_LEA_HLY_LON</text>
<text class="r" x="529.84" y="1815.45" text-anchor="end">NA</text>
<text class="r" x="639.84" y="1815.45" text-anchor="end">NA</text>
<text class="r l" x="0.21" y="1843">GSE14901_VAL_F_YNG_SED_LEA_HLY_SHO</text>
<text class="r" x="530.66" y="1843" text-anchor="end">−0.18</text>
<text class="r" x="640.76" y="1843" text-anchor="end">8.3e−01</text>
<line x1="753" x2="881.6" y1="1835.95" y2="1835.95" stroke="#8A1C63" stroke-width="3.0" stroke-linecap="round"/>
<rect x="814.3" y="1832.95" width="6" height="6" rx="0.8" fill="#D52E92"/>
<text class="r l" x="0.21" y="1870.55">GSE14901_VAL_F_YNG_SED_LEA_HLY_MED</text>
<text class="r" x="530.67" y="1870.55" text-anchor="end">−0.46</text>
<text class="r" x="640.76" y="1870.55" text-anchor="end">2.1e−01</text>
<line x1="700.1" x2="829.1" y1="1863.5" y2="1863.5" stroke="#8A1C63" stroke-width="3.0" stroke-linecap="round"/>
<rect x="761.4" y="1860.5" width="6" height="6" rx="0.8" fill="#D52E92"/>
<text class="r l" x="0.21" y="1898.1">GSE14901_VAL_M_YNG_SED_LEA_HLY_SHO</text>
<text class="r" x="530.76" y="1898.1" text-anchor="end">−0.61</text>
<text class="r" x="640.76" y="1898.1" text-anchor="end">1.6e−01</text>
<line x1="671.7" x2="800.5" y1="1891.05" y2="1891.05" stroke="#8A1C63" stroke-width="3.0" stroke-linecap="round"/>
<rect x="733" y="1888.05" width="6" height="6" rx="0.8" fill="#D52E92"/>
<text class="r l" x="0.21" y="1925.65">GSE14901_VAL_M_YNG_SED_LEA_HLY_MED</text>
<text class="r" x="530.57" y="1925.65" text-anchor="end">−0.50</text>
<text class="r" x="640.76" y="1925.65" text-anchor="end">1.3e−01</text>
<line x1="692.7" x2="821.3" y1="1918.6" y2="1918.6" stroke="#8A1C63" stroke-width="3.0" stroke-linecap="round"/>
<rect x="754" y="1915.6" width="6" height="6" rx="0.8" fill="#D52E92"/>
<text class="r l" x="0.21" y="1953.2">GSE21496_VAL_M_YNG_SED_LEA_HLY_SHO</text>
<text class="r" x="530.67" y="1953.2" text-anchor="end">−0.23</text>
<text class="r" x="640.76" y="1953.2" text-anchor="end">9.8e−01</text>
<line x1="761.5" x2="854.4" y1="1946.15" y2="1946.15" stroke="#8A1C63" stroke-width="3.0" stroke-linecap="round"/>
<rect x="804.55" y="1942.9" width="6.5" height="6.5" rx="0.8" fill="#D52E92"/>
<text class="r l" x="0.21" y="1980.75">GSE24215_VAL_M_YNG_ACT_LEA_HLY_MED</text>
<text class="r" x="530.67" y="1980.75" text-anchor="end">−0.63</text>
<text class="r" x="640.79" y="1980.75" text-anchor="end">8.0e−02</text>
<line x1="667.4" x2="798.9" y1="1973.7" y2="1973.7" stroke="#8A1C63" stroke-width="3.0" stroke-linecap="round"/>
<rect x="730.1" y="1970.7" width="6" height="6" rx="0.8" fill="#D52E92"/>
<text class="r l" x="0.21" y="2008.3">GSE33886_VAL_M_YNG_SED_LEA_HLY_LON</text>
<text class="r" x="530.67" y="2008.3" text-anchor="end">−0.63</text>
<text class="r" x="640.76" y="2008.3" text-anchor="end">1.9e−01</text>
<line x1="681.7" x2="782.9" y1="2001.25" y2="2001.25" stroke="#8A1C63" stroke-width="3.0" stroke-linecap="round"/>
<rect x="729.1" y="1998.25" width="6" height="6" rx="0.8" fill="#D52E92"/>
<text class="h" x="-0.06" y="2064.9">Random−effects model (REML)</text>
<text class="h" x="534.25" y="2064.9" text-anchor="end">−0.35</text>
<text class="h" x="644.59" y="2064.9" text-anchor="end">1.2e−09</text>
<polygon points="761.5,2056.8 784.65,2042.8 807.8,2056.8 784.65,2070.8" fill="#8A2063"/>
</g>
<g>
<text class="t" x="464" y="2222.2" text-anchor="middle">Training HIIT exercise</text>
<text class="h" x="1.86" y="2270.5">Study</text>
<text class="h" x="473.16" y="2270.5" text-anchor="end">logFC</text>
<text class="h" x="584.66" y="2270.5" text-anchor="end">FDR</text>
<line x1="719.9" x2="719.9" y1="2279.8" y2="2409.1" stroke="#d3d3d3" stroke-width="2.9" stroke-linecap="round"/>
<path d="M604.1 2418.6V2409.1H951.7V2418.6M719.9 2409.1v9.5M835.75 2409.1v9.5" fill="none" stroke="#000" stroke-width="2.7" stroke-linecap="butt" stroke-linejoin="miter"/>
<text class="a" x="604.1" y="2441.4" text-anchor="middle">−0.5</text>
<text class="a" x="719.9" y="2441.4" text-anchor="middle">0</text>
<text class="a" x="835.75" y="2441.4" text-anchor="middle">0.5</text>
<text class="a" x="951.7" y="2441.4" text-anchor="middle">1</text>
<text class="a" x="777.9" y="2468.4" text-anchor="middle">logFC</text>
<text class="r l" x="2.91" y="2300.4">GSE109657_VAL_M_YNG_ACT_LEA_HLY</text>
<text class="r" x="473.03" y="2300.4" text-anchor="end">0.15</text>
<text class="r" x="581.76" y="2300.4" text-anchor="end">4.1e−01</text>
<line x1="721.5" x2="787.4" y1="2293" y2="2293" stroke="#456C8C" stroke-width="3.0" stroke-linecap="round"/>
<rect x="751.7" y="2290.5" width="5" height="5" rx="0.8" fill="#6FA9D8"/>
<text class="r l" x="2.91" y="2326.5">GSE97084_VAL_U_ELD_SED_OWE_HLY</text>
<text class="r" x="473.13" y="2326.5" text-anchor="end">0.49</text>
<text class="r" x="581.76" y="2326.5" text-anchor="end">2.3e−01</text>
<line x1="756.6" x2="909.4" y1="2319.1" y2="2319.1" stroke="#456C8C" stroke-width="3.0" stroke-linecap="round"/>
<rect x="831.15" y="2317.35" width="3.5" height="3.5" rx="0.8" fill="#6FA9D8"/>
<text class="r l" x="2.91" y="2352.6">GSE97084_VAL_U_YNG_SED_LEA_HLY</text>
<text class="r" x="473.16" y="2352.6" text-anchor="end">0.01</text>
<text class="r" x="581.76" y="2352.6" text-anchor="end">9.8e−01</text>
<line x1="656.9" x2="787.4" y1="2345.2" y2="2345.2" stroke="#456C8C" stroke-width="3.0" stroke-linecap="round"/>
<rect x="720.2" y="2343.2" width="4" height="4" rx="0.8" fill="#6FA9D8"/>
<text class="h" x="2.34" y="2405.65">Random−effects model (REML)</text>
<text class="h" x="475.36" y="2405.65" text-anchor="end">0.2</text>
<text class="h" x="586.33" y="2405.65" text-anchor="end">1.1e−01</text>
<polygon points="707.2,2396.9 766.65,2383.9 826.1,2396.9 766.65,2409.9" fill="#6CA6D2"/>
</g>
<g>
<text class="t" x="1452" y="923.1" text-anchor="middle">Training resistance exercise</text>
<text class="h" x="991.96" y="973.3">Study</text>
<text class="h" x="1474.36" y="973.3" text-anchor="end">logFC</text>
<text class="h" x="1585.16" y="973.3" text-anchor="end">FDR</text>
<line x1="1763.3" x2="1763.3" y1="1013.3" y2="1890.4" stroke="#d3d3d3" stroke-width="2.9" stroke-linecap="round"/>
<path d="M1611.4 1899.9V1890.4H1915.6V1899.9M1687.25 1890.4v9.5M1763.3 1890.4v9.5M1839.35 1890.4v9.5" fill="none" stroke="#000" stroke-width="2.7" stroke-linecap="butt" stroke-linejoin="miter"/>
<text class="a" x="1611.4" y="1922.7" text-anchor="middle">−1</text>
<text class="a" x="1687.25" y="1922.7" text-anchor="middle">−0.5</text>
<text class="a" x="1763.3" y="1922.7" text-anchor="middle">0</text>
<text class="a" x="1839.35" y="1922.7" text-anchor="middle">0.5</text>
<text class="a" x="1915.6" y="1922.7" text-anchor="middle">1</text>
<text class="a" x="1763.5" y="1949.7" text-anchor="middle">logFC</text>
<text class="r l" x="992.58" y="1005.3">EMEXP740_VAL_M_ELD_SED_OWE_HLY</text>
<text class="r" x="1473.94" y="1005.3" text-anchor="end">NA</text>
<text class="r" x="1583.74" y="1005.3" text-anchor="end">NA</text>
<text class="r l" x="993.21" y="1034.56">GSE106865_VAL_M_YNG_ACT_LEA_HLY</text>
<text class="r" x="1474.86" y="1034.56" text-anchor="end">−0.01</text>
<text class="r" x="1584.66" y="1034.56" text-anchor="end">9.9e−01</text>
<line x1="1728.6" x2="1795.5" y1="1027.71" y2="1027.71" stroke="#0F8A3F" stroke-width="3.0" stroke-linecap="round"/>
<rect x="1756.9" y="1022.71" width="10" height="10" rx="0.8" fill="#4CB748"/>
<text class="r l" x="993.21" y="1063.82">GSE117525_VAL_F_ELD_SED_OWE_FRA</text>
<text class="r" x="1474.86" y="1063.82" text-anchor="end">0.01</text>
<text class="r" x="1584.47" y="1063.82" text-anchor="end">1.0e+00</text>
<line x1="1740.6" x2="1788.1" y1="1056.97" y2="1056.97" stroke="#0F8A3F" stroke-width="3.0" stroke-linecap="round"/>
<rect x="1758.4" y="1051.07" width="11.8" height="11.8" rx="0.8" fill="#4CB748"/>
<text class="r l" x="993.21" y="1093.08">GSE117525_VAL_F_ELD_SED_LEA_HLY</text>
<text class="r" x="1474.77" y="1093.08" text-anchor="end">−0.03</text>
<text class="r" x="1584.66" y="1093.08" text-anchor="end">9.5e−01</text>
<line x1="1731.3" x2="1785.8" y1="1086.23" y2="1086.23" stroke="#0F8A3F" stroke-width="3.0" stroke-linecap="round"/>
<rect x="1753.35" y="1080.98" width="10.5" height="10.5" rx="0.8" fill="#4CB748"/>
<text class="r l" x="993.21" y="1122.34">GSE117525_VAL_M_ELD_SED_OWE_FRA</text>
<text class="r" x="1474.83" y="1122.34" text-anchor="end">0.09</text>
<text class="r" x="1584.66" y="1122.34" text-anchor="end">4.7e−01</text>
<line x1="1758.1" x2="1796.4" y1="1115.49" y2="1115.49" stroke="#0F8A3F" stroke-width="3.0" stroke-linecap="round"/>
<rect x="1770.35" y="1108.74" width="13.5" height="13.5" rx="0.8" fill="#4CB748"/>
<text class="r l" x="993.21" y="1151.6">GSE117525_VAL_M_ELD_SED_OWE_HLY</text>
<text class="r" x="1474.77" y="1151.6" text-anchor="end">−0.03</text>
<text class="r" x="1584.66" y="1151.6" text-anchor="end">9.3e−01</text>
<line x1="1730.7" x2="1786" y1="1144.75" y2="1144.75" stroke="#0F8A3F" stroke-width="3.0" stroke-linecap="round"/>
<rect x="1753.35" y="1139.5" width="10.5" height="10.5" rx="0.8" fill="#4CB748"/>
<text class="r l" x="993.21" y="1180.86">GSE16907_VAL_F_MDL_SED_LEA_HLY</text>
<text class="r" x="1474.73" y="1180.86" text-anchor="end">0.15</text>
<text class="r" x="1584.47" y="1180.86" text-anchor="end">1.0e+00</text>
<line x1="1754.9" x2="1818.1" y1="1174.01" y2="1174.01" stroke="#0F8A3F" stroke-width="3.0" stroke-linecap="round"/>
<rect x="1781.4" y="1169.01" width="10" height="10" rx="0.8" fill="#4CB748"/>
<text class="r l" x="993.21" y="1210.12">GSE24235_BIB_F_YNG_SED_LEA_HLY</text>
<text class="r" x="1474.89" y="1210.12" text-anchor="end">0.12</text>
<text class="r" x="1584.47" y="1210.12" text-anchor="end">1.0e+00</text>
<line x1="1725.4" x2="1837.5" y1="1203.27" y2="1203.27" stroke="#0F8A3F" stroke-width="3.0" stroke-linecap="round"/>
<rect x="1777.3" y="1199.27" width="8" height="8" rx="0.8" fill="#4CB748"/>
<text class="r l" x="993.21" y="1239.38">GSE24235_BIB_M_YNG_SED_LEA_HLY</text>
<text class="r" x="1474.77" y="1239.38" text-anchor="end">−0.03</text>
<text class="r" x="1584.66" y="1239.38" text-anchor="end">9.9e−01</text>
<line x1="1694.7" x2="1824.2" y1="1232.53" y2="1232.53" stroke="#0F8A3F" stroke-width="3.0" stroke-linecap="round"/>
<rect x="1755.65" y="1228.78" width="7.5" height="7.5" rx="0.8" fill="#4CB748"/>
<text class="r l" x="993.21" y="1268.64">GSE28422_VAL_F_ELD_SED_OWE_HLY</text>
<text class="r" x="1474.76" y="1268.64" text-anchor="end">0.08</text>
<text class="r" x="1584.66" y="1268.64" text-anchor="end">9.8e−01</text>
<line x1="1740.2" x2="1811.7" y1="1261.79" y2="1261.79" stroke="#0F8A3F" stroke-width="3.0" stroke-linecap="round"/>
<rect x="1771.15" y="1257.04" width="9.5" height="9.5" rx="0.8" fill="#4CB748"/>
<text class="r l" x="993.21" y="1297.9">GSE28422_VAL_F_YNG_SED_LEA_HLY</text>
<text class="r" x="1474.67" y="1297.9" text-anchor="end">0.10</text>
<text class="r" x="1584.66" y="1297.9" text-anchor="end">9.9e−01</text>
<line x1="1744.8" x2="1811.3" y1="1291.05" y2="1291.05" stroke="#0F8A3F" stroke-width="3.0" stroke-linecap="round"/>
<rect x="1773" y="1286.05" width="10" height="10" rx="0.8" fill="#4CB748"/>
<text class="r l" x="993.21" y="1327.16">GSE28422_VAL_M_ELD_SED_OWE_HLY</text>
<text class="r" x="1474.76" y="1327.16" text-anchor="end">0.08</text>
<text class="r" x="1584.66" y="1327.16" text-anchor="end">9.3e−01</text>
<line x1="1739.8" x2="1811.5" y1="1320.31" y2="1320.31" stroke="#0F8A3F" stroke-width="3.0" stroke-linecap="round"/>
<rect x="1770.95" y="1315.56" width="9.5" height="9.5" rx="0.8" fill="#4CB748"/>
<text class="r l" x="993.21" y="1356.42">GSE28422_VAL_M_YNG_SED_LEA_HLY</text>
<text class="r" x="1474.77" y="1356.42" text-anchor="end">0.06</text>
<text class="r" x="1584.47" y="1356.42" text-anchor="end">1.0e+00</text>
<line x1="1741.9" x2="1804" y1="1349.57" y2="1349.57" stroke="#0F8A3F" stroke-width="3.0" stroke-linecap="round"/>
<rect x="1767.45" y="1344.32" width="10.5" height="10.5" rx="0.8" fill="#4CB748"/>
<text class="r l" x="993.21" y="1385.68">GSE28998_BIB_F_YNG_SED_OWE_HLY</text>
<text class="r" x="1474.76" y="1385.68" text-anchor="end">0.68</text>
<text class="r" x="1584.66" y="1385.68" text-anchor="end">5.9e−01</text>
<line x1="1781.3" x2="1952.4" y1="1378.83" y2="1378.83" stroke="#0F8A3F" stroke-width="3.0" stroke-linecap="round"/>
<rect x="1863.15" y="1375.08" width="7.5" height="7.5" rx="0.8" fill="#4CB748"/>
<text class="r l" x="993.21" y="1414.94">GSE28998_BIB_M_YNG_SED_OWE_HLY</text>
<text class="r" x="1474.73" y="1414.94" text-anchor="end">0.65</text>
<text class="r" x="1584.66" y="1414.94" text-anchor="end">4.1e−01</text>
<line x1="1788.5" x2="1937.2" y1="1408.09" y2="1408.09" stroke="#0F8A3F" stroke-width="3.0" stroke-linecap="round"/>
<rect x="1858.95" y="1404.34" width="7.5" height="7.5" rx="0.8" fill="#4CB748"/>
<text class="r l" x="993.21" y="1444.2">GSE45426_VAL_M_YNG_ACT_LEA_HLY</text>
<text class="r" x="1474.77" y="1444.2" text-anchor="end">−0.53</text>
<text class="r" x="1584.57" y="1444.2" text-anchor="end">3.0e−03</text>
<line x1="1653.5" x2="1713.3" y1="1437.35" y2="1437.35" stroke="#0F8A3F" stroke-width="3.0" stroke-linecap="round"/>
<rect x="1677.8" y="1431.85" width="11" height="11" rx="0.8" fill="#4CB748"/>
<text class="r l" x="993.21" y="1473.46">GSE47881_VAL_U_ELD_ACT_OWE_HLY</text>
<text class="r" x="1474.48" y="1473.46" text-anchor="end">0.04</text>
<text class="r" x="1584.47" y="1473.46" text-anchor="end">1.0e+00</text>
<line x1="1748.2" x2="1790.5" y1="1466.61" y2="1466.61" stroke="#0F8A3F" stroke-width="3.0" stroke-linecap="round"/>
<rect x="1762.8" y="1460.11" width="13" height="13" rx="0.8" fill="#4CB748"/>
<text class="r l" x="993.21" y="1502.72">GSE47881_VAL_U_MDL_ACT_OWE_HLY</text>
<text class="r" x="1474.77" y="1502.72" text-anchor="end">0.03</text>
<text class="r" x="1584.66" y="1502.72" text-anchor="end">9.9e−01</text>
<line x1="1748.6" x2="1787.5" y1="1495.87" y2="1495.87" stroke="#0F8A3F" stroke-width="3.0" stroke-linecap="round"/>
<rect x="1761.35" y="1489.12" width="13.5" height="13.5" rx="0.8" fill="#4CB748"/>
<text class="r l" x="993.21" y="1531.98">GSE47881_VAL_U_YNG_ACT_LEA_HLY</text>
<text class="r" x="1474.77" y="1531.98" text-anchor="end">−0.13</text>
<text class="r" x="1584.47" y="1531.98" text-anchor="end">1.0e+00</text>
<line x1="1714.9" x2="1771.5" y1="1525.13" y2="1525.13" stroke="#0F8A3F" stroke-width="3.0" stroke-linecap="round"/>
<rect x="1737.5" y="1519.63" width="11" height="11" rx="0.8" fill="#4CB748"/>
<text class="r l" x="993.21" y="1561.24">GSE48278_VAL_F_MDL_SED_OBE_MTS</text>
<text class="r" x="1474.67" y="1561.24" text-anchor="end">0.10</text>
<text class="r" x="1584.47" y="1561.24" text-anchor="end">1.0e+00</text>
<line x1="1741.7" x2="1816.8" y1="1554.39" y2="1554.39" stroke="#0F8A3F" stroke-width="3.0" stroke-linecap="round"/>
<rect x="1774.45" y="1549.64" width="9.5" height="9.5" rx="0.8" fill="#4CB748"/>
<text class="r l" x="993.21" y="1590.5">GSE48278_VAL_M_MDL_SED_OBE_MTS</text>
<text class="r" x="1474.48" y="1590.5" text-anchor="end">0.54</text>
<text class="r" x="1584.47" y="1590.5" text-anchor="end">1.0e+00</text>
<line x1="1807.6" x2="1882.4" y1="1583.65" y2="1583.65" stroke="#0F8A3F" stroke-width="3.0" stroke-linecap="round"/>
<rect x="1840.25" y="1578.9" width="9.5" height="9.5" rx="0.8" fill="#4CB748"/>
<text class="r l" x="993.21" y="1619.76">GSE58249_VAL_F_MDL_SED_MOB_MTS</text>
<text class="r" x="1474.77" y="1619.76" text-anchor="end">−0.06</text>
<text class="r" x="1584.47" y="1619.76" text-anchor="end">1.0e+00</text>
<line x1="1707.7" x2="1800.4" y1="1612.91" y2="1612.91" stroke="#0F8A3F" stroke-width="3.0" stroke-linecap="round"/>
<rect x="1749.4" y="1608.41" width="9" height="9" rx="0.8" fill="#4CB748"/>
<text class="r l" x="993.21" y="1649.02">GSE58249_VAL_M_MDL_SED_MOB_MTS</text>
<text class="r" x="1474.89" y="1649.02" text-anchor="end">−0.07</text>
<text class="r" x="1584.47" y="1649.02" text-anchor="end">1.0e+00</text>
<line x1="1687.9" x2="1818.9" y1="1642.17" y2="1642.17" stroke="#0F8A3F" stroke-width="3.0" stroke-linecap="round"/>
<rect x="1749.1" y="1638.17" width="8" height="8" rx="0.8" fill="#4CB748"/>
<text class="r l" x="993.21" y="1678.28">GSE8479_VAL_F_ELD_ACT_LEA_HLY</text>
<text class="r" x="1474.86" y="1678.28" text-anchor="end">0.41</text>
<text class="r" x="1584.69" y="1678.28" text-anchor="end">6.2e−02</text>
<line x1="1783" x2="1868" y1="1671.43" y2="1671.43" stroke="#0F8A3F" stroke-width="3.0" stroke-linecap="round"/>
<rect x="1820.9" y="1666.93" width="9" height="9" rx="0.8" fill="#4CB748"/>
<text class="r l" x="993.21" y="1707.54">GSE8479_VAL_M_ELD_ACT_LEA_HLY</text>
<text class="r" x="1474.67" y="1707.54" text-anchor="end">0.20</text>
<text class="r" x="1584.66" y="1707.54" text-anchor="end">4.5e−01</text>
<line x1="1744.8" x2="1843.2" y1="1700.69" y2="1700.69" stroke="#0F8A3F" stroke-width="3.0" stroke-linecap="round"/>
<rect x="1789.3" y="1696.19" width="9" height="9" rx="0.8" fill="#4CB748"/>
<text class="r l" x="993.21" y="1736.8">GSE9405_VAL_M_YNG_ATH_LEA_HLY</text>
<text class="r" x="1473.94" y="1736.8" text-anchor="end">NA</text>
<text class="r" x="1583.74" y="1736.8" text-anchor="end">NA</text>
<text class="r l" x="993.21" y="1766.06">GSE97084_VAL_U_ELD_SED_OWE_HLY</text>
<text class="r" x="1474.73" y="1766.06" text-anchor="end">0.15</text>
<text class="r" x="1584.66" y="1766.06" text-anchor="end">6.7e−01</text>
<line x1="1749.5" x2="1824" y1="1759.21" y2="1759.21" stroke="#0F8A3F" stroke-width="3.0" stroke-linecap="round"/>
<rect x="1781.6" y="1754.21" width="10" height="10" rx="0.8" fill="#4CB748"/>
<text class="r l" x="993.21" y="1795.32">GSE97084_VAL_U_YNG_SED_LEA_HLY</text>
<text class="r" x="1474.89" y="1795.32" text-anchor="end">0.27</text>
<text class="r" x="1584.66" y="1795.32" text-anchor="end">4.9e−01</text>
<line x1="1770.5" x2="1837.3" y1="1788.47" y2="1788.47" stroke="#0F8A3F" stroke-width="3.0" stroke-linecap="round"/>
<rect x="1798.7" y="1783.47" width="10" height="10" rx="0.8" fill="#4CB748"/>
<text class="r l" x="993.21" y="1824.58">GSE99963_VAL_M_MDL_SED_OWE_HLY</text>
<text class="r" x="1474.83" y="1824.58" text-anchor="end">−0.59</text>
<text class="r" x="1584.66" y="1824.58" text-anchor="end">4.5e−01</text>
<line x1="1605.5" x2="1743.5" y1="1817.73" y2="1817.73" stroke="#0F8A3F" stroke-width="3.0" stroke-linecap="round"/>
<rect x="1670.5" y="1813.73" width="8" height="8" rx="0.8" fill="#4CB748"/>
<text class="h" x="992.94" y="1884.95">Random−effects model (REML)</text>
<text class="h" x="1477.2" y="1884.95" text-anchor="end">0.06</text>
<text class="h" x="1587.53" y="1884.95" text-anchor="end">2.3e−01</text>
<polygon points="1756.3,1876 1772.5,1861.2 1788.7,1876 1772.5,1890.8" fill="#138A45"/>
</g>
<g>
<text class="t" x="1452.4" y="2061.1" text-anchor="middle">Training combined exercise</text>
<text class="h" x="997.86" y="2110.6">Study</text>
<text class="h" x="1469.16" y="2110.6" text-anchor="end">logFC</text>
<text class="h" x="1580.66" y="2110.6" text-anchor="end">FDR</text>
<line x1="1650.1" x2="1650.1" y1="2178.6" y2="2404.7" stroke="#d3d3d3" stroke-width="2.9" stroke-linecap="round"/>
<path d="M1649.8 2414.2V2404.7H1851.8V2414.2" fill="none" stroke="#000" stroke-width="2.7" stroke-linecap="butt" stroke-linejoin="miter"/>
<text class="a" x="1649.8" y="2437" text-anchor="middle">0</text>
<text class="a" x="1851.8" y="2437" text-anchor="middle">0.5</text>
<text class="a" x="1750.8" y="2464" text-anchor="middle">logFC</text>
<text class="r l" x="998.51" y="2143.2">GSE14798_SOL_F_YNG_SED_LEA_HLY</text>
<text class="r" x="1468.84" y="2143.2" text-anchor="end">NA</text>
<text class="r" x="1580.14" y="2143.2" text-anchor="end">NA</text>
<text class="r l" x="998.51" y="2171.57">GSE14798_VAL_F_YNG_SED_LEA_HLY</text>
<text class="r" x="1468.84" y="2171.57" text-anchor="end">NA</text>
<text class="r" x="1580.14" y="2171.57" text-anchor="end">NA</text>
<text class="r l" x="998.51" y="2199.94">GSE19420_VAL_M_ELD_SED_OBE_MTS</text>
<text class="r" x="1469.79" y="2199.94" text-anchor="end">0.17</text>
<text class="r" x="1580.87" y="2199.94" text-anchor="end">1.0e+00</text>
<line x1="1620.5" x2="1819.4" y1="2192.24" y2="2192.24" stroke="#408A73" stroke-width="3.0" stroke-linecap="round"/>
<rect x="1717.05" y="2189.49" width="5.5" height="5.5" rx="0.8" fill="#66C2A5"/>
<text class="r l" x="998.51" y="2228.31">GSE53598_VAL_M_MDL_SED_OWE_HLY</text>
<text class="r" x="1469.79" y="2228.31" text-anchor="end">0.07</text>
<text class="r" x="1581.06" y="2228.31" text-anchor="end">9.5e−01</text>
<line x1="1605.1" x2="1755.3" y1="2220.61" y2="2220.61" stroke="#408A73" stroke-width="3.0" stroke-linecap="round"/>
<rect x="1676.9" y="2217.61" width="6" height="6" rx="0.8" fill="#66C2A5"/>
<text class="r l" x="998.51" y="2256.68">GSE83352_VAL_F_MDL_SED_OBE_MTS</text>
<text class="r" x="1469.76" y="2256.68" text-anchor="end">0.21</text>
<text class="r" x="1580.87" y="2256.68" text-anchor="end">1.0e+00</text>
<line x1="1618.1" x2="1852.5" y1="2248.98" y2="2248.98" stroke="#408A73" stroke-width="3.0" stroke-linecap="round"/>
<rect x="1732.9" y="2246.48" width="5" height="5" rx="0.8" fill="#66C2A5"/>
<text class="r l" x="998.51" y="2285.05">GSE83352_VAL_M_MDL_SED_OBE_MTS</text>
<text class="r" x="1469.66" y="2285.05" text-anchor="end">0.18</text>
<text class="r" x="1580.87" y="2285.05" text-anchor="end">1.0e+00</text>
<line x1="1600.3" x2="1846.2" y1="2277.35" y2="2277.35" stroke="#408A73" stroke-width="3.0" stroke-linecap="round"/>
<rect x="1720.6" y="2274.85" width="5" height="5" rx="0.8" fill="#66C2A5"/>
<text class="r l" x="998.51" y="2313.42">GSE97084_VAL_U_ELD_SED_OWE_HLY</text>
<text class="r" x="1469.63" y="2313.42" text-anchor="end">0.45</text>
<text class="r" x="1581.06" y="2313.42" text-anchor="end">6.2e−01</text>
<line x1="1712.3" x2="1947.4" y1="2305.72" y2="2305.72" stroke="#408A73" stroke-width="3.0" stroke-linecap="round"/>
<rect x="1827.1" y="2303.22" width="5" height="5" rx="0.8" fill="#66C2A5"/>
<text class="r l" x="998.51" y="2341.79">GSE97084_VAL_U_YNG_SED_LEA_HLY</text>
<text class="r" x="1469.38" y="2341.79" text-anchor="end">0.34</text>
<text class="r" x="1581.06" y="2341.79" text-anchor="end">8.3e−01</text>
<line x1="1668.4" x2="1903.3" y1="2334.09" y2="2334.09" stroke="#408A73" stroke-width="3.0" stroke-linecap="round"/>
<rect x="1783" y="2331.59" width="5" height="5" rx="0.8" fill="#66C2A5"/>
<text class="h" x="989.14" y="2400.1">Random−effects model (REML)</text>
<text class="h" x="1470.34" y="2400.1" text-anchor="end">0.24</text>
<text class="h" x="1579.64" y="2400.1" text-anchor="end">1.7e−04</text>
<polygon points="1695,2391 1746.6,2377 1798.2,2391 1746.6,2405" fill="#478C76"/>
</g>
</svg>
</body></html>
